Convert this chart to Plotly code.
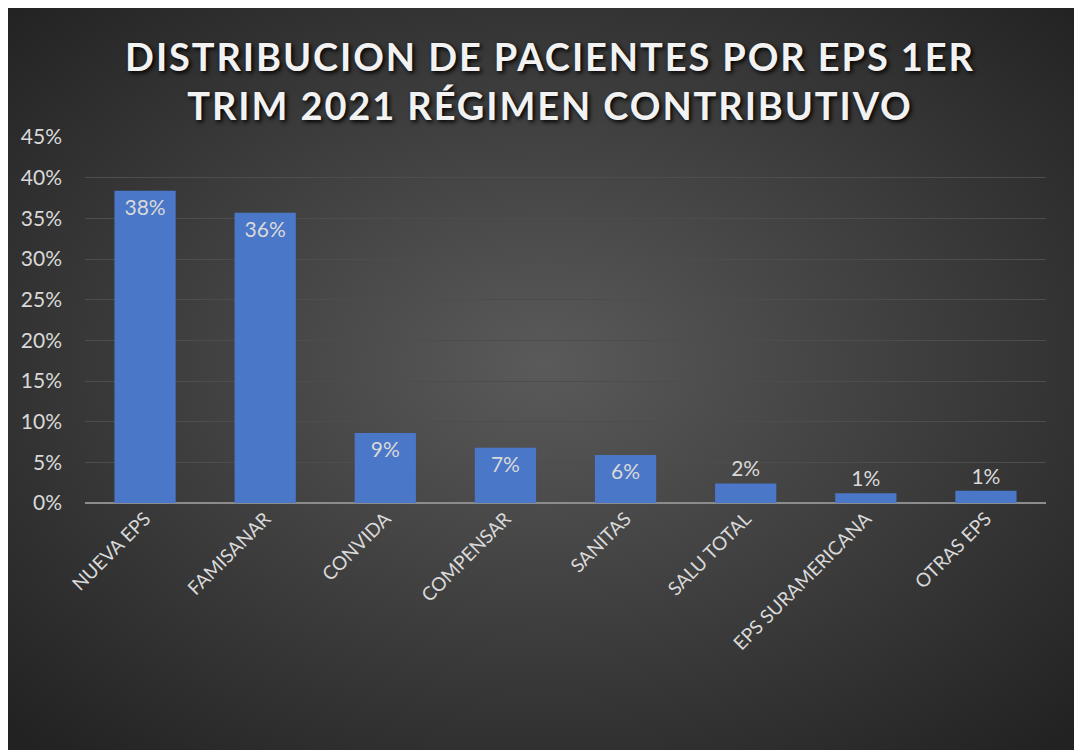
import base64
import plotly.graph_objects as go

categories = ["NUEVA EPS", "FAMISANAR", "CONVIDA", "COMPENSAR", "SANITAS",
              "SALU TOTAL", "EPS SURAMERICANA", "OTRAS EPS"]
values = [0.384, 0.357, 0.086, 0.068, 0.059, 0.024, 0.012, 0.015]
labels = ["38%", "36%", "9%", "7%", "6%", "2%", "1%", "1%"]
text_pos = ["inside"] * 5 + ["outside"] * 3

W, H = 1071, 742
L, R, T, B = 77, 33, 129, 247
pw, ph = W - L - R, H - T - B

svg = f'''<svg xmlns="http://www.w3.org/2000/svg" width="{W}" height="{H}" viewBox="0 0 {W} {H}">
<defs><radialGradient id="g" cx="50%" cy="48%" r="70%">
<stop offset="0%" stop-color="#5a5a5a"/><stop offset="100%" stop-color="#222222"/>
</radialGradient></defs><rect width="{W}" height="{H}" fill="url(#g)"/></svg>'''
bg_src = "data:image/svg+xml;base64," + base64.b64encode(svg.encode()).decode()

FONT = "Lato, Open Sans, sans-serif"

fig = go.Figure(go.Bar(
    x=categories, y=values, text=labels, textposition=text_pos,
    insidetextanchor="end", constraintext="none", cliponaxis=False,
    marker=dict(color="#4a77c8", line=dict(width=0)),
    textfont=dict(family=FONT, size=21, color="#d9d9d9"),
    outsidetextfont=dict(family=FONT, size=21, color="#d9d9d9"),
))

fig.update_layout(
    width=W, height=H,
    margin=dict(l=L, r=R, t=T, b=B),
    paper_bgcolor="#2a2a2a", plot_bgcolor="rgba(0,0,0,0)",
    bargap=0.49, showlegend=False,
    title=dict(
        text=('<span style="letter-spacing:1.9px">DISTRIBUCION DE PACIENTES POR EPS 1ER</span><br>'
              '<span style="letter-spacing:1.9px">TRIM 2021 RÉGIMEN CONTRIBUTIVO</span>'),
        x=542 / W, xanchor="center", xref="container",
        y=1 - 63 / H, yanchor="middle",
        font=dict(family=FONT, size=38, color="#f2f2f2",
                  weight="bold", shadow="2px 2px 4px #000000"),
    ),
    images=[dict(
        source=bg_src, xref="paper", yref="paper",
        x=-L / pw, y=1 + T / ph,
        sizex=W / pw, sizey=H / ph,
        sizing="stretch", xanchor="left", yanchor="top", layer="below",
    )],
    xaxis=dict(
        tickangle=-45, showgrid=False, showline=False, ticks="",
        tickfont=dict(family=FONT, size=19, color="#d9d9d9"),
    ),
    yaxis=dict(
        range=[0, 0.45], dtick=0.05, tickformat=".0%",
        showgrid=True, gridcolor="#4d4d4d", gridwidth=1,
        zeroline=True, zerolinecolor="#8c8c8c", zerolinewidth=2,
        showline=False, ticks="", ticklabelstandoff=22,
        tickfont=dict(family=FONT, size=21, color="#d9d9d9"),
    ),
)

fig.write_html("out.html")
